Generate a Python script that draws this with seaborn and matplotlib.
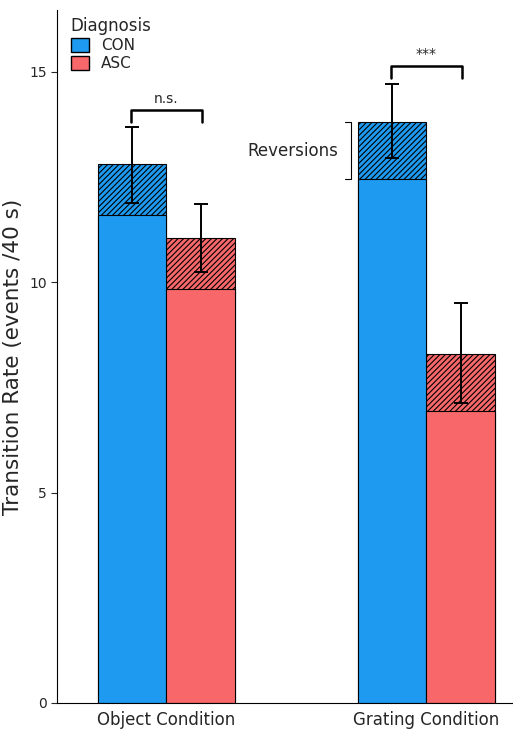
import pandas as pd
import matplotlib.pyplot as plt
import seaborn as sns
from matplotlib.patches import Patch

conditions = ['Object Condition', 'Grating Condition']
groups = ['CON', 'ASC']
total_rate = [12.8, 11.05, 13.8, 8.3]      # CON obj, ASC obj, CON grat, ASC grat
switch_rate = [11.6, 9.85, 12.45, 6.95]
err_low = [11.88, 10.24, 12.95, 7.13]
err_high = [13.69, 11.86, 14.71, 9.5]
colors = {'CON': '#1e9bf0', 'ASC': '#f8686a'}

df = pd.DataFrame({
    'cond': [c for c in conditions for g in groups],
    'group': [g for c in conditions for g in groups],
    'total': total_rate,
    'switch': switch_rate,
})

sns.set_style('white')
plt.rcParams['font.family'] = ['DejaVu Sans']
plt.rcParams['hatch.linewidth'] = 0.8
fig = plt.figure(figsize=(5.13, 7.3), dpi=100)
ax = fig.add_axes([57 / 513, 27 / 730, 456 / 513, 693 / 730])

sns.barplot(data=df, x='cond', y='total', hue='group', palette=colors, width=0.529,
            edgecolor='black', linewidth=0.8, errorbar=None, ax=ax, legend=False, saturation=1)
for p in ax.patches:
    p.set_hatch('//////')
n = len(ax.patches)
sns.barplot(data=df, x='cond', y='switch', hue='group', palette=colors, width=0.529,
            edgecolor='black', linewidth=0.8, errorbar=None, ax=ax, legend=False, saturation=1)

# error bars from bar centres (order: hue outer, category inner)
bars = ax.patches[:n]
order = [0, 2, 1, 3]  # map patch index -> data index
for i, p in enumerate(bars):
    j = order[i]
    xc = p.get_x() + p.get_width() / 2
    mid = total_rate[j]
    ax.errorbar(xc, mid, yerr=[[mid - err_low[j]], [err_high[j] - mid]],
                color='black', capsize=5, lw=1.4, capthick=1.4)

def bracket(x1, x2, y, text):
    ax.plot([x1, x1, x2, x2], [y - 0.3, y, y, y - 0.3], color='black', lw=1.8)
    ax.text((x1 + x2) / 2, y + 0.1, text, ha='center', va='bottom', fontsize=10)

bracket(-0.135, 0.135, 14.1, 'n.s.')
bracket(0.865, 1.135, 15.15, '***')

# Reversions bracket
ax.plot([0.685, 0.71, 0.71, 0.685], [13.8, 13.8, 12.45, 12.45], color='black', lw=0.8)
ax.text(0.66, 13.12, 'Reversions', ha='right', va='center', fontsize=12)

ax.set_xlim(-0.421, 1.333)
ax.set_ylim(0, 16.47)
ax.set_yticks([0, 5, 10, 15])
ax.tick_params(axis='y', left=True, length=4, labelsize=10)
ax.tick_params(axis='x', bottom=False, labelsize=12, pad=2)
ax.set_xlabel('')
ax.set_ylabel('Transition Rate (events /40 s)', fontsize=15.5, labelpad=4)
sns.despine(ax=ax)
ax.spines['left'].set_color('black')
ax.spines['bottom'].set_color('black')

handles = [Patch(facecolor=colors[g], edgecolor='black', label=g) for g in groups]
ax.legend(handles=handles, title='Diagnosis', loc='upper left', bbox_to_anchor=(0.0, 1.01),
          frameon=False, fontsize=11, title_fontsize=12, handlelength=1.2, handleheight=1.0,
          labelspacing=0.2, alignment='left')

fig.savefig('out.png', dpi=100)
